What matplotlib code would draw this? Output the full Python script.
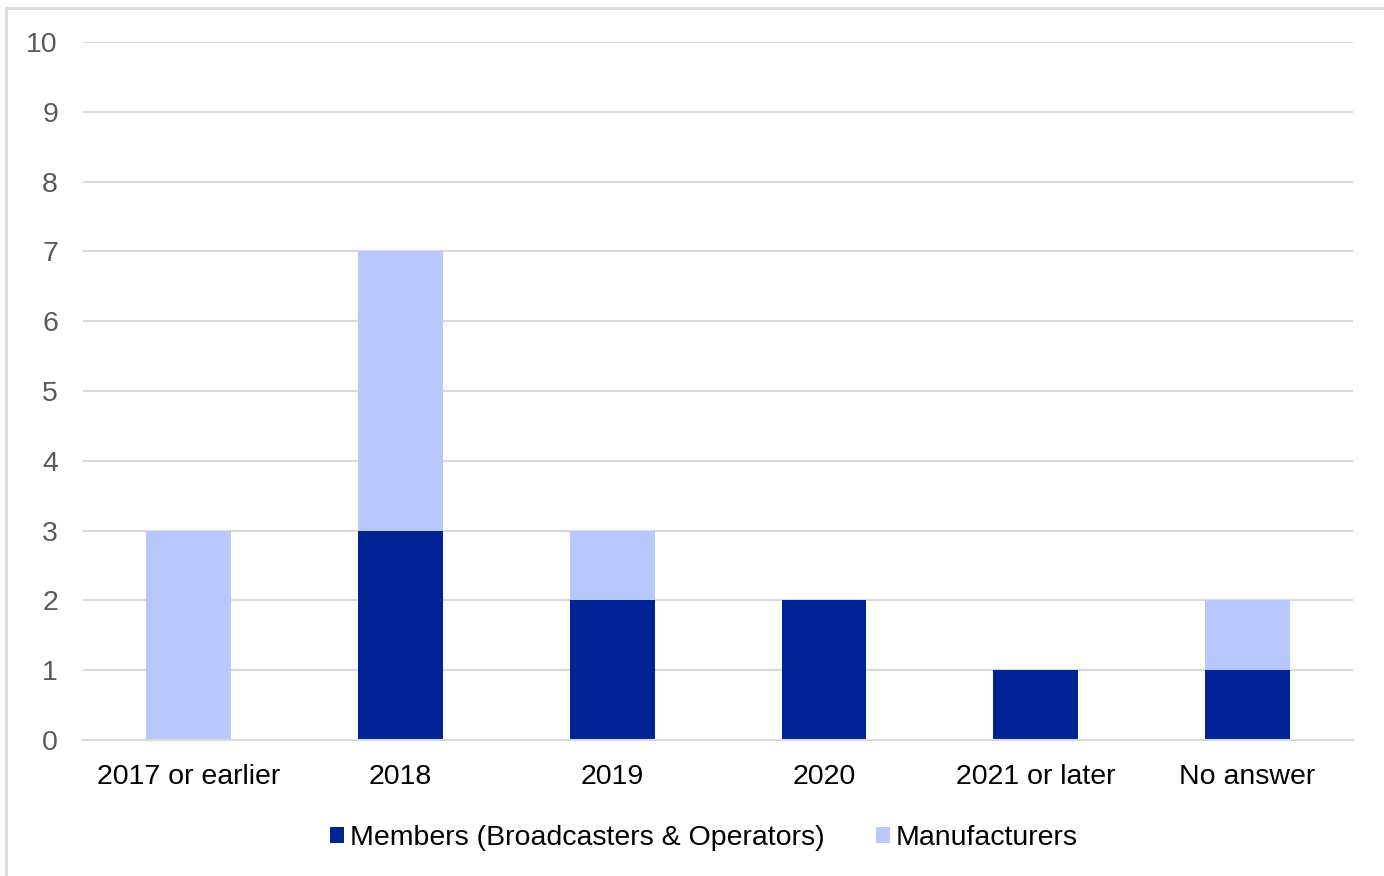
import matplotlib.pyplot as plt
from matplotlib.patches import Rectangle

plt.rcParams['font.family'] = ['Liberation Sans', 'DejaVu Sans']

categories = ['2017 or earlier', '2018', '2019', '2020', '2021 or later', 'No answer']
members = [0, 3, 2, 2, 1, 1]
manufacturers = [3, 4, 1, 0, 0, 1]

dark = '#002395'
light = '#b8c8fe'
grid = '#d9d9d9'

fig = plt.figure(figsize=(13.84, 8.76), dpi=100)
ax = fig.add_axes([83 / 1384, 1 - 740 / 876, 1270 / 1384, 698 / 876])

# chart-area frame
fig.patches.append(Rectangle((6 / 1384, -0.05), 1.1, 1 - 8 / 876 + 0.05,
                             transform=fig.transFigure, fill=False,
                             edgecolor=grid, lw=2))

x = range(len(categories))
ax.bar(x, members, width=0.4, color=dark, label='Members (Broadcasters & Operators)', zorder=3)
ax.bar(x, manufacturers, width=0.4, bottom=members, color=light, label='Manufacturers', zorder=3)

ax.set_xlim(-0.5, len(categories) - 0.5)
ax.set_ylim(0, 10)
ax.set_yticks(range(0, 11))
ax.yaxis.grid(True, color=grid, lw=1.5)
ax.set_axisbelow(True)
for s in ['top', 'right', 'left']:
    ax.spines[s].set_visible(False)
ax.spines['bottom'].set_color(grid)
ax.spines['bottom'].set_linewidth(1.5)
ax.spines['bottom'].set_zorder(4)

ax.set_xticks(list(x))
ax.set_xticklabels(categories)
ax.tick_params(axis='both', length=0, labelsize=20.5)
ax.tick_params(axis='y', pad=18, labelcolor='#595959')
ax.tick_params(axis='x', pad=17, labelcolor='black')

leg = ax.legend(loc='upper center', bbox_to_anchor=(0.489, -0.085), ncol=2, frameon=False,
                fontsize=20.5, handlelength=0.5, handleheight=0.5, handletextpad=0.2,
                columnspacing=1.8)

fig.savefig('out.png', dpi=100)
